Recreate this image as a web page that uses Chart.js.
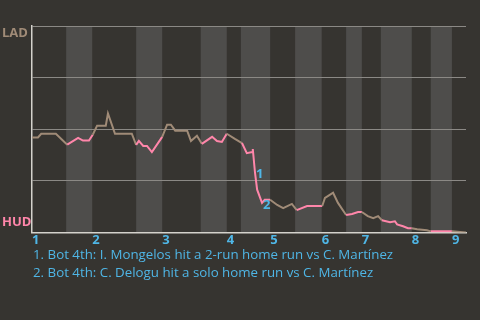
<!DOCTYPE html>
<html>
<head>
<meta charset="utf-8">
<script src="https://cdn.jsdelivr.net/npm/chart.js@4/dist/chart.umd.min.js"></script>
<style>
  body { margin: 0; background: #363430; width: 480px; height: 320px; overflow: hidden; position: relative; }
  #wrap { position: absolute; left: 0; top: 0; width: 480px; height: 248px; }
  .note { position: absolute; left: 33px; color: #4fb6e6; font-family: "Open Sans", sans-serif; font-size: 13.3px; white-space: nowrap; }
</style>
</head>
<body>
<div id="wrap"><canvas id="wpChart"></canvas></div>
<div class="note" style="top:245px">1. Bot 4th: I. Mongelos hit a 2-run home run vs C. Martínez</div>
<div class="note" style="top:263px">2. Bot 4th: C. Delogu hit a solo home run vs C. Martínez</div>
<script>
// game progress (plays) and LAD win probability (%)
const plays = [0, 1.1, 1.7, 4.4, 6.5, 8.5, 9.4, 10.5, 11.2, 12.0, 12.9, 13.6, 14.0, 15.3, 18.4,
  19.2, 19.7, 20.5, 21.2, 22.1, 24.0, 24.9, 25.6, 26.4, 28.6, 29.3, 30.4, 31.3, 33.2, 34.1, 35.0,
  35.9, 37.4, 38.7, 39.6, 40.6, 40.7, 41.1, 41.5, 42.4, 42.9, 43.9, 45.2, 46.3, 47.9, 48.8, 50.7,
  51.6, 53.5, 54.0, 54.6, 55.5, 56.4, 57.9, 59.0, 60.1, 60.8, 61.9, 62.9, 63.8, 64.5, 66.0, 66.9,
  67.3, 68.4, 69.3, 70.0, 71.0, 72.8, 73.5, 77.4, 80];
const winProb = [46.0, 46.0, 47.8, 47.8, 42.5, 45.8, 44.5, 44.5, 47.3, 51.7, 51.7, 51.7, 57.6, 47.8, 47.8,
  42.4, 44.3, 41.9, 41.9, 38.9, 46.3, 52.2, 52.2, 49.3, 49.3, 44.3, 46.8, 42.9, 46.3, 44.3, 43.8,
  47.8, 45.3, 43.3, 38.4, 38.9, 40.4, 29.1, 20.7, 14.3, 15.8, 15.8, 13.3, 11.8, 13.8, 10.8, 12.8,
  12.8, 12.8, 16.7, 17.7, 19.2, 14.3, 8.4, 8.9, 9.9, 9.9, 7.9, 6.9, 7.9, 5.9, 4.9, 5.4,
  3.9, 3.0, 2.0, 2.0, 1.5, 1.0, 0.5, 0.5, 0];
// start of each half inning (top, bottom, top, ...), last value = end of game
const halfStarts = [0, 6.3, 11.1, 19.2, 24.0, 31.1, 35.9, 38.5, 43.9, 48.5, 53.4, 57.9, 60.8, 64.3, 70.0, 73.5, 77.4, 80];
const inningLabels = ["1", "2", "3", "4", "5", "6", "7", "8", "9"];
const teams = ["LAD", "HUD"];
const marks = [{ play: 41.1, prob: 29.1, text: "1" }, { play: 42.4, prob: 14.3, text: "2" }];

const tanColor = "#a08b77";
const pinkColor = "#ff86aa";
const blueColor = "#4fb6e6";

function halfIndex(x) {
  let idx = 0;
  for (let i = 0; i < halfStarts.length - 1; i++) {
    if (x >= halfStarts[i]) idx = i;
  }
  return idx;
}

const inningStarts = halfStarts.filter((v, i) => i % 2 === 0 && i < halfStarts.length - 1);

const bandsPlugin = {
  id: "bands",
  beforeDraw(chart) {
    const ctx = chart.ctx;
    const area = chart.chartArea;
    const xs = chart.scales.x;
    ctx.save();
    for (let i = 1; i < halfStarts.length - 1; i += 2) {
      const x1 = xs.getPixelForValue(halfStarts[i]);
      const x2 = xs.getPixelForValue(halfStarts[i + 1]);
      ctx.fillStyle = "#4e4d4b";
      ctx.fillRect(x1, area.top, x2 - x1, area.bottom - area.top);
    }
    ctx.restore();
  },
  afterDraw(chart) {
    const ctx = chart.ctx;
    const area = chart.chartArea;
    ctx.save();
    ctx.font = "bold 13px 'Open Sans', sans-serif";
    ctx.textAlign = "left";
    ctx.textBaseline = "middle";
    ctx.fillStyle = tanColor;
    ctx.fillText(teams[0], 2, area.top + 7);
    ctx.fillStyle = pinkColor;
    ctx.fillText(teams[1], 2, area.bottom - 10);
    ctx.font = "bold 13px 'Open Sans', sans-serif";
    ctx.fillStyle = blueColor;
    marks.forEach(m => {
      const px = chart.scales.x.getPixelForValue(m.play);
      const py = chart.scales.y.getPixelForValue(m.prob);
      ctx.fillText(m.text, px + 1, py + 2);
    });
    ctx.restore();
  }
};

new Chart("wpChart", {
  type: "line",
  data: {
    datasets: [{
      data: plays.map((p, i) => ({ x: p, y: winProb[i] })),
      borderWidth: 2,
      pointRadius: 0,
      tension: 0,
      borderColor: tanColor,
      segment: {
        borderColor: c => halfIndex((c.p0.parsed.x + c.p1.parsed.x) / 2) % 2 === 1 ? pinkColor : tanColor
      }
    }]
  },
  options: {
    responsive: true,
    maintainAspectRatio: false,
    animation: false,
    layout: { padding: { left: 32, top: 26, right: 14, bottom: 0 } },
    plugins: { legend: { display: false }, tooltip: { enabled: false } },
    scales: {
      x: {
        type: "linear",
        min: 0,
        max: 80,
        afterBuildTicks: scale => { scale.ticks = inningStarts.map(v => ({ value: v })); },
        grid: { display: false, drawTicks: false },
        border: { color: "#d4d2cc", width: 1.5 },
        ticks: {
          align: "start",
          padding: 0,
          color: blueColor,
          font: { family: "Open Sans", size: 13, weight: "bold" },
          callback: (v, i) => inningLabels[i]
        }
      },
      y: {
        min: 0,
        max: 100,
        grid: { color: "#8b8985", drawTicks: false },
        border: { color: "#d4d2cc", width: 1.5 },
        ticks: { stepSize: 25, display: false }
      }
    }
  },
  plugins: [bandsPlugin]
});
</script>
</body>
</html>
